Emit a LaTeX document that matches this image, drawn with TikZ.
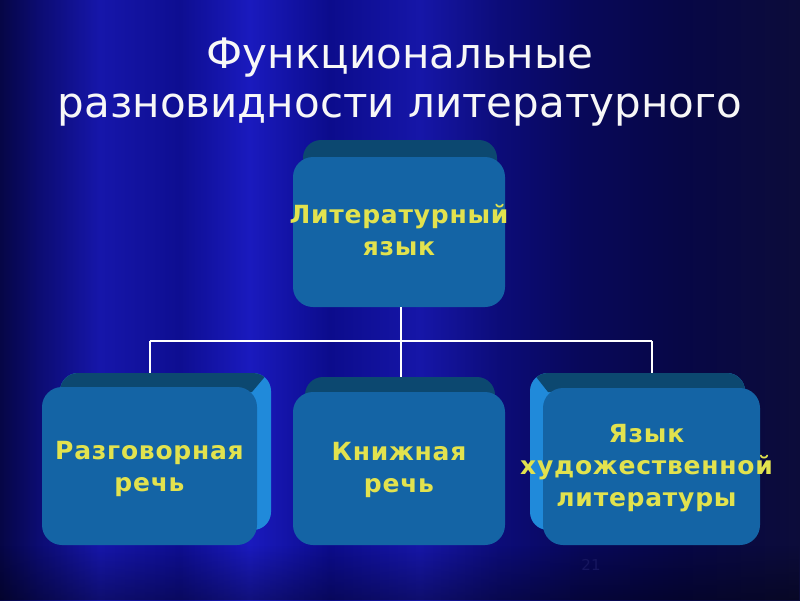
\documentclass[tikz,border=0pt]{standalone}
\usepackage{fontspec}
\setmainfont{DejaVu Sans}
\newfontfamily\boxfont[LetterSpace=3]{DejaVu Sans}
\usetikzlibrary{fadings}
\definecolor{frontc}{RGB}{20,100,165}
\definecolor{topc}{RGB}{12,72,112}
\definecolor{sidec}{RGB}{32,138,218}
\definecolor{txtc}{RGB}{226,226,78}
\definecolor{pgc}{RGB}{22,22,95}
\pgfdeclarehorizontalshading{bgshade}{100bp}{
 color(0bp)=(rgb,255:red,6;green,6;blue,70);
 color(25bp)=(rgb,255:red,6;green,6;blue,70);
 color(27.5bp)=(rgb,255:red,12;green,12;blue,115);
 color(31.25bp)=(rgb,255:red,22;green,22;blue,170);
 color(36.25bp)=(rgb,255:red,14;green,14;blue,145);
 color(40.6bp)=(rgb,255:red,26;green,26;blue,190);
 color(45.6bp)=(rgb,255:red,12;green,12;blue,140);
 color(51.25bp)=(rgb,255:red,22;green,22;blue,168);
 color(56.25bp)=(rgb,255:red,12;green,12;blue,120);
 color(61.25bp)=(rgb,255:red,8;green,8;blue,90);
 color(67.5bp)=(rgb,255:red,7;green,7;blue,70);
 color(75bp)=(rgb,255:red,12;green,12;blue,58);
 color(100bp)=(rgb,255:red,12;green,12;blue,58)}
\tikzset{
 frontbox/.style={draw=none,fill=frontc,rounded corners=20pt,inner sep=0pt},
 boxtext/.style={text=txtc,align=center,inner sep=0pt,
   font=\boxfont\bfseries\fontsize{25}{32}\selectfont},
 titletext/.style={text=white!94!gray,align=center,font=\fontsize{42}{49}\selectfont},
 link/.style={draw=white,line width=2pt}
}
\begin{document}
\begin{tikzpicture}[x=1pt,y=-1pt]
\useasboundingbox (0,0) rectangle (800,600);
\shade[shading=bgshade] (0,0) rectangle (800,600);
\fill[black,opacity=0.35,path fading=north] (0,545) rectangle (800,600);
% title
\node[titletext] (title) at (400,82) {Функциональные\\разновидности литературного};
% page number
\node[text=pgc,font=\fontsize{15}{15}\selectfont] (pg) at (591,565) {21};
% ---- top box
\fill[topc,rounded corners=18pt] (303,140) rectangle (497,300);
\node[frontbox,minimum width=212pt,minimum height=150pt] (lit) at (399,232) {};
\node[boxtext] (littxt) at (lit.center) [yshift=2pt] {Литературный\\язык};
% ---- left box
\fill[sidec,rounded corners=18pt] (60,373) rectangle (271,530);
\begin{scope}
 \clip[rounded corners=18pt] (60,373) rectangle (271,530);
 \fill[topc] (0,373) -- (268,373) -- (252,392) -- (0,392) -- cycle;
\end{scope}
\node[frontbox,minimum width=215pt,minimum height=158pt] (razg) at (149.5,466) {};
\node[boxtext] (razgtxt) at (razg.center) [yshift=-3pt] {Разговорная\\речь};
% ---- middle box
\fill[topc,rounded corners=18pt] (305,377) rectangle (495,530);
\node[frontbox,minimum width=212pt,minimum height=153pt] (kn) at (399,468.5) {};
\node[boxtext] (kntxt) at (kn.center) [yshift=-1pt] {Книжная\\речь};
% ---- right box
\fill[sidec,rounded corners=18pt] (530,373) rectangle (745,530);
\begin{scope}
 \clip[rounded corners=18pt] (530,373) rectangle (745,530);
 \fill[topc] (533,373) -- (800,373) -- (800,392) -- (548,392) -- cycle;
\end{scope}
\node[frontbox,minimum width=217pt,minimum height=157pt] (hud) at (651.5,466.5) {};
\node[boxtext] (hudtxt) at (hud.center) [xshift=-5pt,yshift=-2pt] {Язык\\художественной\\литературы};
% connectors
\coordinate (jc) at (401,341);
\coordinate (jl) at (150,341);
\coordinate (jr) at (652,341);
\coordinate (tl) at (150,373);
\coordinate (tm) at (401,377);
\coordinate (tr) at (652,373);
\draw[link] (lit.south -| jc) -- (jc);
\draw[link] (jl) -- (jr);
\draw[link] (jl) -- (tl);
\draw[link] (jc) -- (tm);
\draw[link] (jr) -- (tr);
\end{tikzpicture}
\end{document}
